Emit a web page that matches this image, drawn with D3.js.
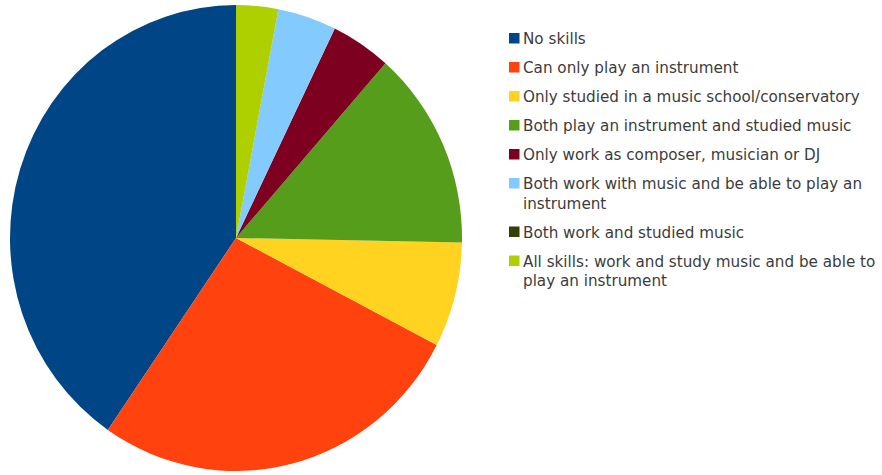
<!DOCTYPE html>
<html>
<head>
<meta charset="utf-8">
<script src="https://cdn.jsdelivr.net/npm/d3@7"></script>
<style>
  html, body { margin: 0; padding: 0; background: #fff; }
  svg { display: block; }
</style>
</head>
<body>
<svg id="chart" width="882" height="475"></svg>
<script>
// Music skills of respondents (share of answers, %)
const categories = [
  "No skills",
  "Can only play an instrument",
  "Only studied in a music school/conservatory",
  "Both play an instrument and studied music",
  "Only work as composer, musician or DJ",
  "Both work with music and be able to play an\ninstrument",
  "Both work and studied music",
  "All skills: work and study music and be able to\nplay an instrument"
];
const values = [40.4, 27.0, 7.3, 13.8, 4.3, 4.2, 0, 3.0];
const colors = ["#004586", "#ff420e", "#ffd320", "#579d1c", "#7e0021", "#83caff", "#314004", "#aecf00"];

const svg = d3.select("#chart");
const data = categories.map((c, i) => ({ label: c, value: values[i], color: colors[i] }));

// Pie: first slice starts at 12 o'clock and runs counter-clockwise
const cx = 236, cy = 238, rx = 226, ry = 233;
const pie = d3.pie().value(d => d.value).sort(null)
  .startAngle(0).endAngle(-2 * Math.PI);
const arc = d3.arc().innerRadius(0).outerRadius(rx);

const g = svg.append("g")
  .attr("transform", `translate(${cx},${cy}) scale(1,${ry / rx})`);
g.selectAll("path")
  .data(pie(data))
  .join("path")
  .attr("d", arc)
  .attr("fill", d => d.data.color);

// Legend
const legend = svg.append("g").attr("transform", "translate(509,0)");
let baseline = 44;
data.forEach(d => {
  const lines = d.label.split("\n");
  const item = legend.append("g");
  item.append("rect")
    .attr("x", 0).attr("y", baseline - 11)
    .attr("width", 10.5).attr("height", 10.5)
    .attr("fill", d.color);
  const text = item.append("text")
    .attr("x", 14).attr("y", baseline)
    .attr("font-family", "DejaVu Sans, sans-serif")
    .attr("font-size", 15.2)
    .attr("fill", "#3c3c3c");
  lines.forEach((line, j) => {
    text.append("tspan").attr("x", 14).attr("y", baseline + j * 19.5).text(line);
  });
  baseline += 29 + (lines.length - 1) * 19.5;
});
</script>
</body>
</html>
